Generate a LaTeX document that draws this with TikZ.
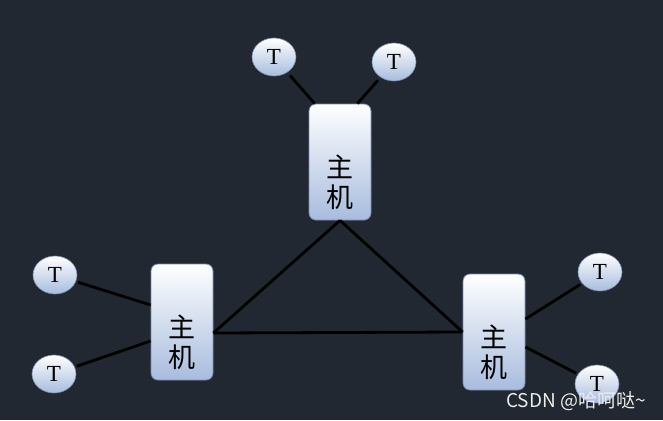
\documentclass[tikz,border=0pt]{standalone}
\usepackage{fontspec}
\setmainfont{Liberation Serif}
\newfontfamily\cjk{Noto Sans CJK SC}
\usetikzlibrary{shapes.geometric}
\definecolor{bgnavy}{RGB}{33,40,49}
\definecolor{nodeblue}{RGB}{168,188,222}
\definecolor{rimblue}{RGB}{120,140,175}
\tikzstyle{host}=[draw=rimblue, rounded corners=7pt, top color=white, bottom color=nodeblue, minimum width=62pt, minimum height=116pt, line width=0.8pt]
\tikzstyle{hosttext}=[align=center, font=\cjk\fontsize{27}{30}\selectfont, inner sep=0pt]
\tikzstyle{term}=[ellipse, draw=rimblue, top color=white, bottom color=nodeblue, minimum width=44pt, minimum height=38pt, inner sep=0pt, line width=0.6pt, font=\fontsize{23}{23}\selectfont]
\tikzstyle{link}=[line width=2.8pt, black]

\begin{document}
\begin{tikzpicture}[x=1pt,y=-1pt]
  \fill[bgnavy] (0,0) rectangle (663,420);
  \useasboundingbox (0,0) rectangle (663,420);

  % hosts
  \node[host] (htop) at (340,162) {};
  \node[hosttext] (htopt) at (340,182) {主\\机};
  \node[host] (hleft) at (182,322) {};
  \node[hosttext] (hleftt) at (182,342) {主\\机};
  \node[host] (hright) at (494,332) {};
  \node[hosttext] (hrightt) at (494,352) {主\\机};

  % terminals
  \node[term] (t1) at (274,57) {\raisebox{-3pt}{T}};
  \node[term] (t2) at (394,62) {\raisebox{-3pt}{T}};
  \node[term] (t3) at (55,275) {\raisebox{-3pt}{T}};
  \node[term] (t4) at (54,374) {\raisebox{-3pt}{T}};
  \node[term] (t5) at (600,272) {\raisebox{-3pt}{T}};
  \node[term] (t6) at (597,384) {\raisebox{-3pt}{T}};

  % triangle between hosts
  \draw[link] (htop.south) -- ([yshift=-11pt]hleft.east);
  \draw[link] (htop.south) -- (hright.west);
  \draw[link] ([yshift=-11pt]hleft.east) -- (hright.west);

  % terminal links
  \draw[link, shorten <=4pt] (t1) -- ([xshift=6pt]htop.north west);
  \draw[link, shorten <=4pt] (t2) -- ([xshift=-14pt]htop.north east);
  \draw[link, shorten <=2pt] (t3) -- ([yshift=17pt]hleft.west);
  \draw[link, shorten <=2pt] (t4) -- ([yshift=-19pt]hleft.west);
  \draw[link, shorten <=2pt] (t5) -- ([yshift=13pt]hright.east);
  \draw[link, shorten <=2pt] (t6) -- ([yshift=-15pt]hright.east);

  % watermark
  \node[text=white!85!gray, font=\cjk\fontsize{19}{19}\selectfont, inner sep=0pt] (mark) at (576,401) {CSDN @哈呵哒\textasciitilde};
\end{tikzpicture}
\end{document}
